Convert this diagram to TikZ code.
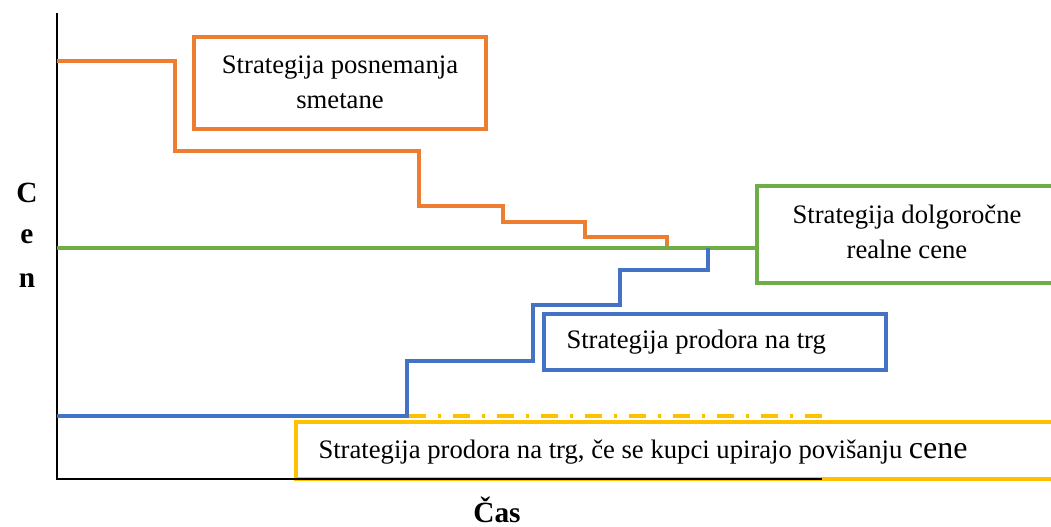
\documentclass[tikz,border=0pt]{standalone}
\usepackage{fontspec}
\setmainfont{Liberation Serif}

\definecolor{orangeline}{RGB}{237,125,49}
\definecolor{greenline}{RGB}{112,173,71}
\definecolor{blueline}{RGB}{68,114,196}
\definecolor{yellowline}{RGB}{255,192,0}

\tikzset{every picture/.style={line width=0.75pt}}
\tikzset{
  curve/.style={line width=2.6pt},
  frame/.style={line width=3pt},
  boxtext/.style={inner sep=0.75pt, font=\fontsize{20}{26}\selectfont},
  axislabel/.style={inner sep=0.75pt, font=\fontsize{22}{26}\selectfont\bfseries}
}

\begin{document}
\begin{tikzpicture}[x=0.75pt,y=0.75pt,yscale=-1,xscale=1]
\useasboundingbox (0,0) rectangle (1051,527);

%Shape: Open Rectangle (yellow)
\draw [yellowline, frame]  (1051,422) -- (296,422) -- (296,479) -- (1051,479) ;
%Straight Lines (yellow dash dot)
\draw [yellowline, line width=3pt, dash pattern=on 12.5pt off 9pt on 2.5pt off 9pt]  (409,416) -- (822,416) ;

%Axes
\draw [line width=1.2pt]  (57,13) -- (57,479) -- (822,479) ;

%Shape: Rectangle (orange)
\draw [orangeline, frame]  (194,37) rectangle (486,129) ;
%Straight Lines (orange steps)
\draw [orangeline, curve]  (57,61) -- (175,61) -- (175,151) -- (419,151) -- (419,206) -- (503,206) -- (503,222) -- (585,222) -- (585,237) -- (667,237) -- (667,248) ;

%Straight Lines (green)
\draw [greenline, curve]  (57,248) -- (757,248) ;
%Shape: Open Rectangle (green)
\draw [greenline, frame]  (1051,186) -- (757,186) -- (757,283) -- (1051,283) ;

%Straight Lines (blue steps)
\draw [blueline, curve]  (57,416) -- (407,416) -- (407,361) -- (533,361) -- (533,305) -- (620,305) -- (620,270) -- (708,270) -- (708,248) ;
%Shape: Rectangle (blue)
\draw [blueline, frame]  (544,314) rectangle (886,370) ;

% Text Node
\node (posnemanje) [boxtext, align=center] at (340,82) {Strategija posnemanja\\smetane};
% Text Node
\node (dolgorocne) [boxtext, align=center] at (907,232) {Strategija dolgoročne\\realne cene};
% Text Node
\node (prodor) [boxtext, anchor=west] at (565,342) {Strategija prodora na trg};
% Text Node
\node (upiranje) [boxtext, anchor=west] at (317,452) {Strategija prodora na trg, če se kupci upirajo povišanju {\fontsize{24}{26}\selectfont cene}};

% Text Node
\node (c) [axislabel] at (27,193) {C};
% Text Node
\node (e) [axislabel] at (27,237) {e};
% Text Node
\node (n) [axislabel] at (27,281) {n};
% Text Node
\node (cas) [axislabel] at (497,510) {Čas};

\end{tikzpicture}
\end{document}
